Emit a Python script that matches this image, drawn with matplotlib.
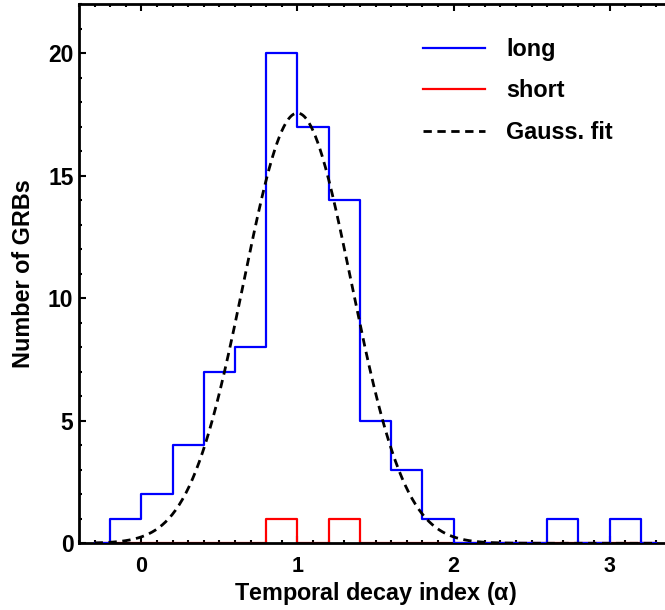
import numpy as np
import matplotlib
matplotlib.use("Agg")
import matplotlib.pyplot as plt
from matplotlib.ticker import MultipleLocator

plt.rcParams['font.family'] = ['Liberation Sans', 'DejaVu Sans']
plt.rcParams['font.weight'] = 'bold'
plt.rcParams['mathtext.fontset'] = 'custom'
plt.rcParams['mathtext.rm'] = 'Liberation Sans'
plt.rcParams['mathtext.it'] = 'Liberation Sans'
plt.rcParams['lines.scale_dashes'] = False

# Bin centres (bin width 0.2)
bin_centers = [-0.3, -0.1, 0.1, 0.3, 0.5, 0.7, 0.9, 1.1, 1.3, 1.5, 1.7,
               1.9, 2.1, 2.3, 2.5, 2.7, 2.9, 3.1, 3.3]
long_counts = [0, 1, 2, 4, 7, 8, 20, 17, 14, 5, 3, 1, 0, 0, 0, 1, 0, 1, 0]
short_counts = [0, 0, 0, 0, 0, 0, 1, 0, 1, 0, 0, 0, 0, 0, 0, 0, 0, 0, 0]

# Gaussian fit parameters (to long GRBs)
gauss_amp = 17.55
gauss_mean = 1.0
gauss_sigma = 0.345

labels = ['long', 'short', 'Gauss. fit']
xticks = [0, 1, 2, 3]
yticks = [0, 5, 10, 15, 20]

W, H = 665, 610
fig = plt.figure(figsize=(W / 100, H / 100), dpi=100)
ax = fig.add_axes([79 / W, 66.7 / H, (672 - 79) / W, (543.3 - 4) / H])

ax.step(bin_centers, short_counts, where='mid', color='#ff0000', lw=1.6,
        label=labels[1], zorder=2)
ax.step(bin_centers, long_counts, where='mid', color='#0000ff', lw=1.6,
        label=labels[0], zorder=3)
xg = np.linspace(bin_centers[0], bin_centers[-1], 500)
yg = gauss_amp * np.exp(-0.5 * ((xg - gauss_mean) / gauss_sigma) ** 2)
ax.plot(xg, yg, color='black', lw=2.0, dashes=(6, 4), label=labels[2], zorder=4)

ax.set_xlim(-0.4, 3.4)
ax.set_ylim(0, 22)
ax.set_xticks(xticks)
ax.set_yticks(yticks)
ax.xaxis.set_minor_locator(MultipleLocator(0.1))
ax.yaxis.set_minor_locator(MultipleLocator(1))
ax.tick_params(which='both', direction='in', top=True, right=True, width=1.5)
ax.tick_params(which='major', length=5)
ax.tick_params(which='minor', length=2.5)
ax.tick_params(axis='y', labelsize=16.5, pad=4)
ax.tick_params(axis='x', labelsize=15.5, pad=9)
for s in ax.spines.values():
    s.set_linewidth(2)

ax.set_xlabel(r'Temporal decay index $(\mathrm{\alpha})$', fontsize=16.8,
              fontweight='bold', labelpad=2)
ax.set_ylabel('Number of GRBs', fontsize=16.8, fontweight='bold', labelpad=9)

h, l = ax.get_legend_handles_labels()
order = [1, 0, 2]
ax.legend([h[i] for i in order], [l[i] for i in order], loc='upper left',
          bbox_to_anchor=(0.580, 0.937), frameon=False, fontsize=16.8,
          handlelength=2.65, handletextpad=0.92, labelspacing=0.79,
          borderpad=0, borderaxespad=0)

fig.savefig('out.png', dpi=100)
